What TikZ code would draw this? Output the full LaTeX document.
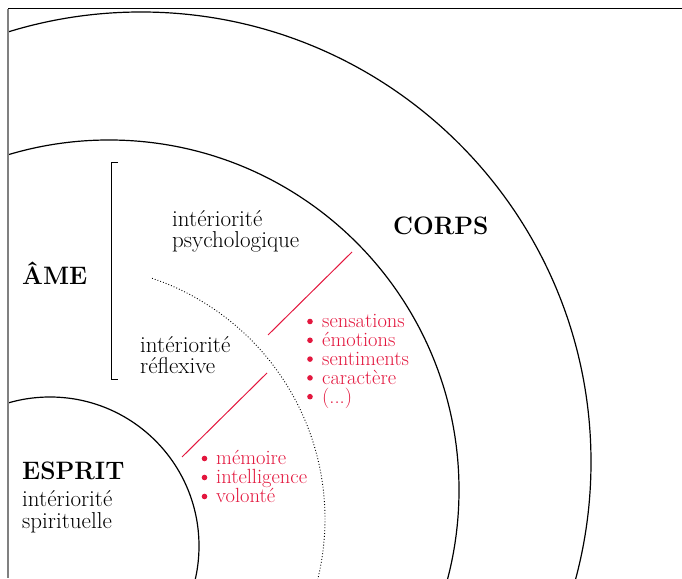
\documentclass[tikz,border=0pt]{standalone}
\definecolor{accent}{HTML}{E3173E}
\newcommand{\tallcaps}[1]{\scalebox{1}[1.03]{#1}}
\begin{document}
\begin{tikzpicture}[x=1pt,y=1pt,
  ring/.style={line width=1.2pt},
  dotring/.style={dotted, line width=0.9pt},
  title/.style={anchor=base west, inner sep=0pt, font=\fontsize{24.5}{26}\bfseries\selectfont},
  label/.style={anchor=base west, inner sep=0pt, font=\fontsize{23}{24}\selectfont},
  item/.style={anchor=base west, inner sep=0pt, text=accent, font=\fontsize{20.5}{22}\selectfont},
  dot/.style={circle, fill=accent, inner sep=0pt, minimum size=5.6pt},
  link/.style={accent, line width=1pt}]

\useasboundingbox (0,0) rectangle (682,578);

% frame corners
\coordinate (tl) at (8,569);
\coordinate (tr) at (682,569);
\coordinate (bl) at (8,0);

% nested circles, cut by the frame
\begin{scope}
  \clip (8,0) rectangle (682,569);
  \draw[ring] (141,116) circle[radius=450];
  \draw[ring] (109,88) circle[radius=350];
  \draw[ring] (50,32) circle[radius=149];
  \draw[dotring] (71,59) ++(71.4:254) arc[start angle=71.4, end angle=-20, radius=254];
\end{scope}

% frame
\draw[line width=1pt] (tl) -- (tr);
\draw[gray, line width=1.6pt] (tl) -- (bl);

% bracket grouping the soul
\coordinate (bt) at (111,415);
\coordinate (bb) at (111,198);
\draw[line width=1pt] ([xshift=7pt]bt) -- (bt) -- (bb) -- ([xshift=7pt]bb);

% headings
\node[title] (ame) at (22,293) {\tallcaps{ÂME}};
\node[title] (corps) at (393,343) {\tallcaps{CORPS}};
\node[title] (esprit) at (22,98) {\tallcaps{ESPRIT}};

% sub-labels
\node[label] (psy1) at (172,351.5) {intériorité};
\node[label] (psy2) at (172,330) {psychologique};
\node[label] (ref1) at (140,225.5) {intériorité};
\node[label] (ref2) at (140,204) {réflexive};
\node[label] (spi1) at (22,71.5) {intériorité};
\node[label] (spi2) at (22,50) {spirituelle};

% red leader lines
\coordinate (u1) at (352,326);
\coordinate (u2) at (268,243);
\coordinate (l1) at (267,205);
\coordinate (l2) at (182,121);
\draw[link] (u1) -- (u2);
\draw[link] (l1) -- (l2);

% faculties of the soul
\node[item] (s1) at (322,250.0) {sensations};
\node[item] (s2) at (322,231.2) {émotions};
\node[item] (s3) at (322,212.4) {sentiments};
\node[item] (s4) at (322,193.6) {caractère};
\node[item] (s5) at (322,174.8) {(...)};
\foreach \i in {1,...,5}
  \node[dot] (sd\i) at (310,{256.5-18.8*(\i-1)}) {};

% faculties of the spirit
\node[item] (m1) at (216,113.0) {mémoire};
\node[item] (m2) at (216,94.0) {intelligence};
\node[item] (m3) at (216,75.0) {volonté};
\foreach \i in {1,...,3}
  \node[dot] (md\i) at (204.5,{119.5-19*(\i-1)}) {};
\end{tikzpicture}
\end{document}
